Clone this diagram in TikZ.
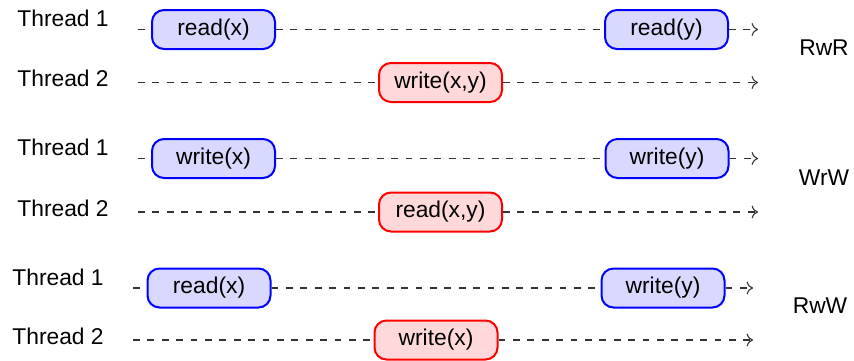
\documentclass[tikz,border=0pt]{standalone}
\usepackage{fontspec}
\setmainfont{Liberation Sans}
\usetikzlibrary{arrows.meta}
\begin{document}
\begin{tikzpicture}[x=0.5pt,y=-0.5pt,
  txt/.style={font=\fontsize{11.4}{13}\selectfont},
  op/.style={txt, draw, rounded corners=6pt, line width=1pt, minimum width=61.5pt, minimum height=19.5pt, inner sep=0pt},
  rd/.style={op, draw=blue, fill=blue!15},
  wr/.style={op, draw=red, fill=red!15},
  lbl/.style={txt, anchor=base west, inner sep=0pt},
  kind/.style={txt, anchor=base, inner sep=0pt},
  tl/.style={dash pattern=on 3.4pt off 3.8pt, line width=0.55pt, black!80},
  tla/.style={tl, -{To[length=3.2pt,width=6.5pt]}}
]
\useasboundingbox (0,0) rectangle (854,360);

% ---- Block 1: RwR
\node[lbl] (a1) at (17,26) {Thread 1};
\node[lbl] (a2) at (17,86) {Thread 2};
\node[rd] (arx) at (213.5,29.5) {read(x)};
\node[rd] (ary) at (666.5,29.5) {read(y)};
\node[wr] (awxy) at (440.5,82.5) {write(x,y)};
\coordinate (as1) at (138,29.5);
\coordinate (ae1) at (758,29.5);
\coordinate (as2) at (138,82.5);
\coordinate (ae2) at (758,82.5);
\draw[tl] (as1) -- (arx.west);
\draw[tl] (arx.east) -- (ary.west);
\draw[tla] (ary.east) -- (ae1);
\draw[tl] (as2) -- (awxy.west);
\draw[tla] (awxy.east) -- (ae2);
\node[kind] (ak) at (824,55) {RwR};

% ---- Block 2: WrW
\node[lbl] (b1) at (17,155) {Thread 1};
\node[lbl] (b2) at (17,216) {Thread 2};
\node[rd] (bwx) at (213.5,158.5) {write(x)};
\node[rd] (bwy) at (667,158.5) {write(y)};
\node[wr] (brxy) at (440.5,212) {read(x,y)};
\coordinate (bs1) at (138,158.5);
\coordinate (be1) at (758,158.5);
\coordinate (bs2) at (138,212);
\coordinate (be2) at (758,212);
\draw[tl] (bs1) -- (bwx.west);
\draw[tl] (bwx.east) -- (bwy.west);
\draw[tla] (bwy.east) -- (be1);
\draw[tl] (bs2) -- (brxy.west);
\draw[tla] (brxy.east) -- (be2);
\node[kind] (bk) at (824,185) {WrW};

% ---- Block 3: RwW
\node[lbl] (c1) at (12,285) {Thread 1};
\node[lbl] (c2) at (12,344) {Thread 2};
\node[rd] (crx) at (209,288) {read(x)};
\node[rd] (cwy) at (663,288) {write(y)};
\node[wr] (cwx) at (436,340) {write(x)};
\coordinate (cs1) at (133,288);
\coordinate (ce1) at (753,288);
\coordinate (cs2) at (133,340);
\coordinate (ce2) at (753,340);
\draw[tl] (cs1) -- (crx.west);
\draw[tl] (crx.east) -- (cwy.west);
\draw[tla] (cwy.east) -- (ce1);
\draw[tl] (cs2) -- (cwx.west);
\draw[tla] (cwx.east) -- (ce2);
\node[kind] (ck) at (820,313) {RwW};
\end{tikzpicture}
\end{document}
